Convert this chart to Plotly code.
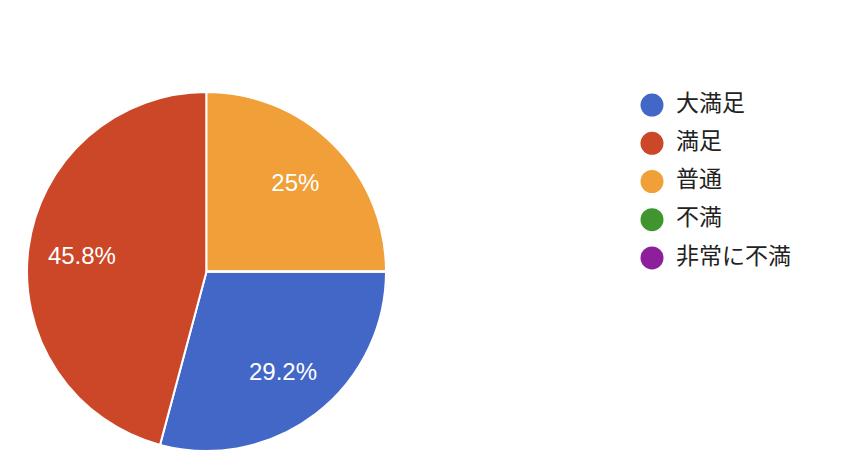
import plotly.graph_objects as go

categories = ["大満足", "満足", "普通", "不満", "非常に不満"]
counts = [7, 11, 6, 0, 0]
colors = ["#4267c7", "#cc4728", "#f09f39", "#41952f", "#8e1f9b"]

total = sum(counts)
texts = [("%g%%" % round(v / total * 100, 1)) if v > 0 else "" for v in counts]

W, H = 854, 472
pie_domain = dict(x=[19 / W, 378 / W], y=[29 / H, 388 / H])

fig = go.Figure()
# Filled pie (no text)
fig.add_trace(go.Pie(
    labels=categories,
    values=counts,
    textinfo="none",
    marker=dict(colors=colors, line=dict(color="white", width=2)),
    sort=False,
    direction="clockwise",
    rotation=90,
    showlegend=False,
    domain=pie_domain,
    hoverinfo="label+value+percent",
))
# Transparent ring carrying the percentage labels further out from the centre
fig.add_trace(go.Pie(
    labels=categories,
    values=counts,
    text=texts,
    textinfo="text",
    textposition="inside",
    insidetextorientation="horizontal",
    textfont=dict(family="Liberation Sans, Arial", size=24, color="white"),
    marker=dict(colors=["rgba(0,0,0,0)"] * len(categories), line=dict(width=0)),
    hole=0.40,
    sort=False,
    direction="clockwise",
    rotation=90,
    showlegend=False,
    domain=pie_domain,
    hoverinfo="skip",
))

# Legend drawn as a marker column on a hidden axis
fig.add_trace(go.Scatter(
    x=[0] * len(categories),
    y=list(range(len(categories))),
    mode="markers",
    marker=dict(symbol="circle", size=23, color=colors),
    hoverinfo="skip",
    showlegend=False,
    cliponaxis=False,
))
fig.add_trace(go.Scatter(
    x=[24] * len(categories),
    y=list(range(len(categories))),
    mode="text",
    text=categories,
    textposition="middle right",
    textfont=dict(family="Noto Sans CJK JP", size=23, color="#222222"),
    hoverinfo="skip",
    showlegend=False,
    cliponaxis=False,
))

fig.update_layout(
    width=W, height=H,
    margin=dict(l=0, r=0, t=0, b=0),
    paper_bgcolor="white", plot_bgcolor="white",
    xaxis=dict(visible=False, domain=[632 / W, 1.0], range=[-12, 210], fixedrange=True),
    yaxis=dict(visible=False, domain=[1 - 269 / H, 1 - 78 / H], range=[4.5, -0.5], fixedrange=True),
    showlegend=False,
)

fig.write_html("out.html")
